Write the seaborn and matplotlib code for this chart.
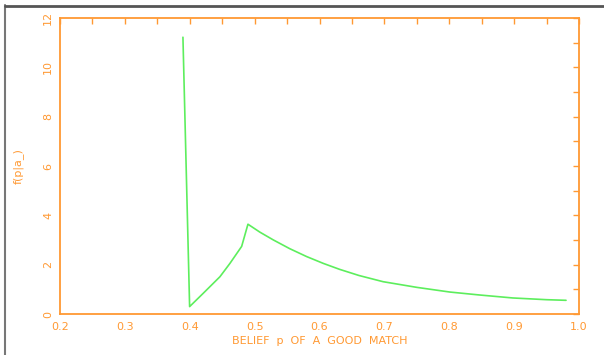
import seaborn as sns
import matplotlib.pyplot as plt
import pandas as pd
from matplotlib.lines import Line2D
from matplotlib.ticker import MultipleLocator

# data
belief = [0.3895, 0.3998, 0.4208, 0.4465, 0.4619, 0.480, 0.4897, 0.508, 0.529,
          0.554, 0.580, 0.606, 0.631, 0.661, 0.698, 0.750, 0.801, 0.847,
          0.898, 0.950, 0.980]
density = [11.22, 0.30, 0.84, 1.51, 2.05, 2.74, 3.64, 3.32, 3.00,
           2.65, 2.33, 2.05, 1.81, 1.56, 1.31, 1.08, 0.89, 0.77,
           0.65, 0.58, 0.555]

df = pd.DataFrame({'p': belief, 'f': density})

orange = '#FF9933'
green = '#5DEE5D'

sns.set_style('white')
plt.rcParams['font.family'] = ['DejaVu Sans']

fig = plt.figure(figsize=(6.04, 3.55), dpi=100)
ax = fig.add_axes([60 / 604, 41 / 355, 519 / 604, 296 / 355])

sns.lineplot(x='p', y='f', data=df, color=green, lw=1.2, ax=ax, sort=False)

ax.set_xlim(0.2, 1.0)
ax.set_ylim(0, 12)
ax.xaxis.set_major_locator(MultipleLocator(0.1))
ax.xaxis.set_minor_locator(MultipleLocator(0.05))
ax.yaxis.set_major_locator(MultipleLocator(2))
ax.yaxis.set_minor_locator(MultipleLocator(1))
ax.set_xticklabels([f'{v:.1f}' for v in ax.get_xticks()])
ax.set_yticklabels([f'{int(v)}' for v in ax.get_yticks()], rotation=90, va='center')

for s in ax.spines.values():
    s.set_color(orange)
    s.set_linewidth(1.3)
ax.tick_params(which='both', direction='in', length=4, width=1, color=orange,
               labelcolor=orange, labelsize=8, top=True, right=True)
ax.tick_params(axis='x', pad=6)
ax.tick_params(axis='y', pad=5)

ax.set_xlabel('BELIEF  p  OF  A  GOOD  MATCH', color=orange, fontsize=8, labelpad=3)
ax.set_ylabel('f(p|a_)', color=orange, fontsize=8, labelpad=14)

# gray frame round the picture
fig.add_artist(Line2D([5 / 604, 5 / 604], [0, 1 - 5 / 355], transform=fig.transFigure,
                      color='#777777', lw=1.5))
fig.add_artist(Line2D([5 / 604, 1], [1 - 5.5 / 355, 1 - 5.5 / 355], transform=fig.transFigure,
                      color='#555555', lw=2))

fig.savefig('out.png', dpi=100)
